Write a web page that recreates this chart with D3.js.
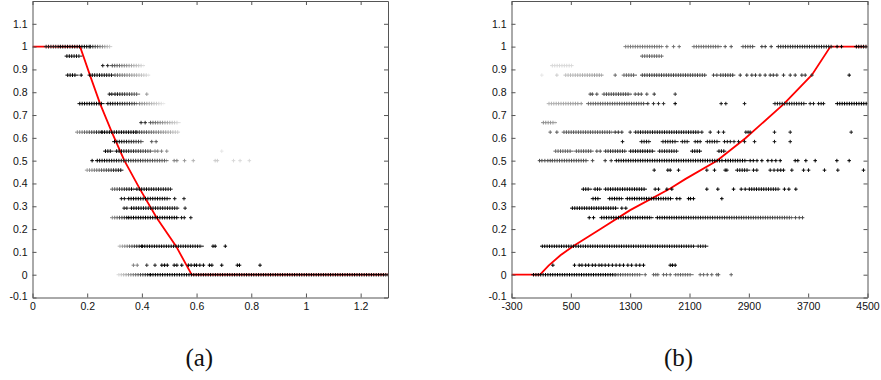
<!DOCTYPE html>
<html>
<head>
<meta charset="utf-8">
<script src="https://cdn.jsdelivr.net/npm/d3@7"></script>
<style>
  body { margin: 0; background: #fff; }
  svg { display: block; }
</style>
</head>
<body>
<script>
const W = 881, H = 380;

// tick labels
const yTicks = [-0.1, 0, 0.1, 0.2, 0.3, 0.4, 0.5, 0.6, 0.7, 0.8, 0.9, 1, 1.1];
const aXTicks = [0, 0.2, 0.4, 0.6, 0.8, 1, 1.2];
const bXTicks = [-300, 500, 1300, 2100, 2900, 3700, 4500];

// point runs: [level in 24ths, x start, x end, grey start, grey end]
// a single point has start == end
const aRuns = [
  [24, 0.048, 0.10, 0.15, 0.1], [24, 0.10, 0.21, 0, 0], [24, 0.21, 0.285, 0.1, 0.8],
  [23, 0.124, 0.176, 0, 0.1],
  [22, 0.257, 0.257, 0.1, 0.1], [22, 0.275, 0.275, 0.15, 0.15], [22, 0.29, 0.405, 0.3, 0.85],
  [21, 0.127, 0.162, 0, 0], [21, 0.178, 0.178, 0, 0], [21, 0.208, 0.293, 0, 0.1], [21, 0.30, 0.424, 0.35, 0.85],
  [19, 0.281, 0.281, 0.1, 0.1], [19, 0.29, 0.29, 0.1, 0.1], [19, 0.30, 0.387, 0.05, 0.4], [19, 0.418, 0.418, 0.6, 0.6],
  [18, 0.171, 0.257, 0, 0], [18, 0.274, 0.381, 0, 0.3], [18, 0.39, 0.479, 0.5, 0.9],
  [16, 0.397, 0.397, 0.15, 0.15], [16, 0.412, 0.412, 0.15, 0.15], [16, 0.43, 0.535, 0.35, 0.85],
  [15, 0.162, 0.253, 0.55, 0.1], [15, 0.253, 0.38, 0, 0], [15, 0.38, 0.533, 0.2, 0.8],
  [14, 0.298, 0.40, 0, 0.3], [14, 0.436, 0.436, 0.35, 0.35], [14, 0.452, 0.452, 0.35, 0.35],
  [13, 0.265, 0.29, 0, 0.05], [13, 0.306, 0.436, 0, 0.35], [13, 0.448, 0.448, 0.5, 0.5], [13, 0.458, 0.458, 0.5, 0.5],
  [13, 0.472, 0.472, 0.5, 0.5], [13, 0.491, 0.491, 0.55, 0.55], [13, 0.692, 0.692, 0.9, 0.9],
  [12, 0.218, 0.218, 0, 0], [12, 0.235, 0.491, 0, 0.4], [12, 0.518, 0.518, 0.5, 0.5], [12, 0.528, 0.528, 0.5, 0.5],
  [12, 0.556, 0.556, 0.6, 0.6], [12, 0.588, 0.588, 0.7, 0.7], [12, 0.668, 0.668, 0.8, 0.8], [12, 0.676, 0.676, 0.8, 0.8],
  [12, 0.735, 0.735, 0.85, 0.85], [12, 0.759, 0.759, 0.85, 0.85], [12, 0.793, 0.793, 0.85, 0.85],
  [11, 0.198, 0.326, 0.6, 0.05],
  [9, 0.29, 0.37, 0.4, 0], [9, 0.38, 0.506, 0, 0.1],
  [8, 0.325, 0.325, 0.1, 0.1], [8, 0.336, 0.336, 0.1, 0.1], [8, 0.35, 0.50, 0, 0.05], [8, 0.52, 0.52, 0.1, 0.1], [8, 0.554, 0.554, 0.1, 0.1],
  [7, 0.335, 0.335, 0.1, 0.1], [7, 0.345, 0.345, 0.1, 0.1], [7, 0.36, 0.53, 0, 0.1], [7, 0.558, 0.558, 0.1, 0.1],
  [6, 0.29, 0.35, 0.55, 0.05], [6, 0.35, 0.53, 0, 0], [6, 0.545, 0.545, 0.1, 0.1], [6, 0.555, 0.555, 0.1, 0.1], [6, 0.579, 0.579, 0.1, 0.1],
  [3, 0.318, 0.40, 0.7, 0], [3, 0.40, 0.62, 0, 0.05], [3, 0.66, 0.66, 0, 0], [3, 0.668, 0.668, 0, 0], [3, 0.705, 0.705, 0, 0],
  [1, 0.369, 0.369, 0.5, 0.5], [1, 0.383, 0.383, 0.5, 0.5], [1, 0.418, 0.418, 0.2, 0.2], [1, 0.448, 0.448, 0.1, 0.1],
  [1, 0.473, 0.473, 0, 0], [1, 0.483, 0.483, 0, 0], [1, 0.493, 0.493, 0, 0], [1, 0.518, 0.518, 0, 0], [1, 0.528, 0.528, 0, 0],
  [1, 0.546, 0.546, 0, 0], [1, 0.57, 0.57, 0, 0], [1, 0.58, 0.58, 0, 0], [1, 0.592, 0.592, 0, 0], [1, 0.60, 0.60, 0, 0],
  [1, 0.612, 0.612, 0, 0], [1, 0.625, 0.625, 0, 0], [1, 0.647, 0.647, 0, 0], [1, 0.656, 0.656, 0, 0], [1, 0.692, 0.692, 0, 0],
  [1, 0.749, 0.749, 0, 0], [1, 0.757, 0.757, 0, 0], [1, 0.832, 0.832, 0, 0],
  [0, 0.314, 0.43, 0.85, 0.05], [0, 0.43, 1.3, 0, 0]
];

const bRuns = [
  [24, 1233, 1727, 0.5, 0.45], [24, 1795, 1795, 0.45, 0.45], [24, 1885, 1885, 0.45, 0.45], [24, 1961, 1961, 0.45, 0.45],
  [24, 2154, 2514, 0.45, 0.4], [24, 2581, 2581, 0.35, 0.35], [24, 2662, 2662, 0.35, 0.35], [24, 2815, 2963, 0.35, 0.3],
  [24, 3076, 3076, 0.25, 0.25], [24, 3121, 3121, 0.25, 0.25], [24, 3201, 3201, 0.25, 0.25], [24, 3291, 4020, 0.2, 0.1],
  [24, 4090, 4090, 0, 0], [24, 4150, 4150, 0, 0], [24, 4343, 4491, 0, 0],
  [23, 1457, 1727, 0.4, 0.4],
  [22, 244, 514, 0.85, 0.85],
  [21, 109, 109, 0.9, 0.9], [21, 312, 312, 0.8, 0.8], [21, 424, 918, 0.75, 0.6], [21, 1098, 1098, 0.4, 0.4],
  [21, 1210, 1368, 0.4, 0.35], [21, 1457, 2312, 0.25, 0.25], [21, 2424, 2424, 0.25, 0.25], [21, 2469, 2469, 0.25, 0.25],
  [21, 2514, 2694, 0.25, 0.2], [21, 2784, 2784, 0.2, 0.2], [21, 2873, 2873, 0.2, 0.2], [21, 2941, 2941, 0.2, 0.2],
  [21, 2990, 2990, 0.2, 0.2], [21, 3050, 3050, 0.2, 0.2], [21, 3120, 3120, 0.2, 0.2], [21, 3188, 3188, 0.2, 0.2],
  [21, 3230, 3230, 0.2, 0.2], [21, 3278, 3278, 0.2, 0.2], [21, 3368, 3368, 0.2, 0.2], [21, 3458, 3458, 0.2, 0.2],
  [21, 3525, 3525, 0.2, 0.2], [21, 3615, 3615, 0.2, 0.2], [21, 3660, 3660, 0.2, 0.2], [21, 3750, 3750, 0.2, 0.2],
  [21, 4253, 4253, 0, 0],
  [19, 761, 761, 0.3, 0.3], [19, 790, 790, 0.3, 0.3], [19, 851, 851, 0.3, 0.3], [19, 941, 1300, 0.3, 0.25],
  [19, 1368, 1368, 0.3, 0.3], [19, 1410, 1410, 0.3, 0.3], [19, 1450, 1450, 0.3, 0.3], [19, 1525, 1525, 0.3, 0.3],
  [19, 1624, 1624, 0.2, 0.2], [19, 1907, 1907, 0.2, 0.2],
  [18, 199, 604, 0.7, 0.6], [18, 640, 640, 0.6, 0.6], [18, 730, 1502, 0.4, 0.3], [18, 1538, 1538, 0.2, 0.2],
  [18, 1615, 1615, 0.2, 0.2], [18, 1682, 1682, 0.2, 0.2], [18, 1750, 1750, 0.2, 0.2], [18, 1907, 1907, 0, 0],
  [18, 2527, 2527, 0.1, 0.1], [18, 2590, 2590, 0.1, 0.1], [18, 2842, 2842, 0.1, 0.1], [18, 3246, 3660, 0.1, 0.1],
  [18, 3727, 3727, 0.1, 0.1], [18, 3772, 3772, 0.1, 0.1], [18, 3840, 3840, 0.1, 0.1], [18, 3875, 3875, 0.1, 0.1],
  [18, 3907, 3907, 0.1, 0.1], [18, 4087, 4505, 0, 0],
  [16, 123, 289, 0.55, 0.6],
  [15, 222, 222, 0.4, 0.4], [15, 312, 312, 0.35, 0.35], [15, 401, 1053, 0.35, 0.3], [15, 1098, 1098, 0.2, 0.2],
  [15, 1140, 1140, 0.2, 0.2], [15, 1188, 1188, 0.2, 0.2], [15, 1300, 1300, 0.2, 0.2], [15, 1368, 2222, 0.1, 0.05],
  [15, 2267, 2267, 0.1, 0.1], [15, 2379, 2379, 0.1, 0.1], [15, 2491, 2491, 0.1, 0.1], [15, 2559, 2559, 0.1, 0.1],
  [15, 2860, 2860, 0.1, 0.1], [15, 2890, 2890, 0.1, 0.1], [15, 2918, 2918, 0.1, 0.1], [15, 3246, 3246, 0.1, 0.1],
  [15, 3458, 3458, 0.1, 0.1], [15, 4280, 4280, 0.1, 0.1],
  [14, 1197, 1197, 0.1, 0.1], [14, 1449, 1557, 0.1, 0.1], [14, 1736, 1929, 0.1, 0.1], [14, 1997, 2078, 0.1, 0.1],
  [14, 2177, 2177, 0.1, 0.1], [14, 2210, 2210, 0.1, 0.1], [14, 2244, 2244, 0.1, 0.1], [14, 2334, 2491, 0.1, 0.1],
  [14, 2572, 2572, 0.1, 0.1], [14, 2610, 2610, 0.1, 0.1], [14, 2650, 2650, 0.1, 0.1], [14, 2700, 2700, 0.1, 0.1],
  [14, 2761, 2761, 0.1, 0.1], [14, 2842, 2842, 0.1, 0.1], [14, 2977, 2977, 0.1, 0.1], [14, 3246, 3246, 0.1, 0.1],
  [14, 3458, 3458, 0.1, 0.1],
  [13, 289, 514, 0.4, 0.35], [13, 568, 784, 0.35, 0.3], [13, 851, 851, 0.3, 0.3], [13, 896, 896, 0.3, 0.3],
  [13, 963, 1233, 0.2, 0.15], [13, 1300, 1615, 0.05, 0.05], [13, 1691, 1929, 0.1, 0.1], [13, 2132, 2244, 0, 0],
  [13, 2491, 2572, 0, 0],
  [12, 78, 78, 0.3, 0.3], [12, 110, 110, 0.3, 0.3], [12, 150, 150, 0.3, 0.3], [12, 190, 190, 0.3, 0.3],
  [12, 222, 222, 0.3, 0.3], [12, 244, 716, 0.3, 0.3], [12, 793, 793, 0.3, 0.3], [12, 963, 963, 0.2, 0.2],
  [12, 1044, 1044, 0.2, 0.2], [12, 1107, 2559, 0.05, 0], [12, 2581, 2873, 0, 0], [12, 2918, 2918, 0, 0],
  [12, 2960, 2960, 0, 0], [12, 3010, 3010, 0, 0], [12, 3076, 3076, 0, 0], [12, 3157, 3157, 0, 0], [12, 3210, 3210, 0, 0],
  [12, 3264, 3264, 0, 0], [12, 3323, 3323, 0, 0], [12, 3525, 3525, 0, 0], [12, 3561, 3561, 0, 0], [12, 3669, 3669, 0, 0],
  [12, 3795, 3795, 0, 0], [12, 4087, 4087, 0, 0], [12, 4253, 4253, 0, 0],
  [11, 1624, 1624, 0.05, 0.05], [11, 1808, 1808, 0.05, 0.05], [11, 1840, 1840, 0.05, 0.05], [11, 1952, 1952, 0.05, 0.05],
  [11, 2334, 2334, 0.05, 0.05], [11, 2437, 2437, 0.05, 0.05], [11, 2581, 2581, 0.05, 0.05], [11, 2604, 2604, 0.05, 0.05],
  [11, 2739, 2896, 0.05, 0.05], [11, 2963, 2963, 0.05, 0.05], [11, 3008, 3008, 0.05, 0.05], [11, 3188, 3188, 0.05, 0.05],
  [11, 3240, 3240, 0.05, 0.05], [11, 3290, 3290, 0.05, 0.05], [11, 3330, 3330, 0.05, 0.05], [11, 3368, 3368, 0.05, 0.05],
  [11, 3480, 3480, 0.05, 0.05], [11, 3638, 3638, 0.05, 0.05], [11, 3705, 3705, 0.05, 0.05], [11, 3920, 3920, 0.05, 0.05],
  [11, 4100, 4100, 0.05, 0.05], [11, 4446, 4446, 0.05, 0.05],
  [9, 662, 761, 0, 0], [9, 820, 896, 0, 0], [9, 963, 1502, 0, 0], [9, 1637, 1637, 0, 0], [9, 1682, 1682, 0, 0],
  [9, 1795, 1795, 0, 0], [9, 1862, 1862, 0, 0], [9, 2334, 2334, 0, 0], [9, 2482, 2482, 0, 0], [9, 2694, 2694, 0, 0],
  [9, 2797, 2797, 0, 0], [9, 2851, 2851, 0, 0], [9, 2900, 3300, 0, 0.05], [9, 3380, 3380, 0, 0], [9, 3440, 3440, 0, 0],
  [9, 3534, 3534, 0, 0],
  [8, 793, 882, 0, 0], [8, 1017, 1188, 0, 0], [8, 1255, 1862, 0, 0], [8, 1929, 1929, 0, 0], [8, 1970, 1970, 0, 0],
  [8, 2087, 2087, 0, 0], [8, 2114, 2114, 0, 0], [8, 2154, 2154, 0, 0], [8, 2536, 2536, 0, 0],
  [7, 514, 1121, 0, 0], [7, 1188, 1188, 0, 0], [7, 1242, 1242, 0, 0],
  [6, 748, 748, 0, 0], [6, 806, 806, 0, 0], [6, 909, 1592, 0, 0], [6, 1660, 3480, 0, 0.3],
  [6, 3530, 3530, 0.3, 0.3], [6, 3580, 3580, 0.3, 0.3], [6, 3624, 3624, 0.3, 0.3],
  [3, 109, 2160, 0, 0.05], [3, 2210, 2330, 0.1, 0.1],
  [1, 258, 258, 0, 0], [1, 550, 550, 0, 0], [1, 613, 613, 0, 0], [1, 650, 650, 0, 0], [1, 700, 700, 0, 0],
  [1, 740, 740, 0, 0], [1, 790, 790, 0, 0], [1, 830, 830, 0, 0], [1, 880, 880, 0, 0], [1, 918, 918, 0, 0],
  [1, 963, 963, 0, 0], [1, 1010, 1010, 0, 0], [1, 1060, 1060, 0, 0], [1, 1110, 1110, 0, 0], [1, 1160, 1160, 0, 0],
  [1, 1210, 1210, 0, 0], [1, 1269, 1269, 0, 0], [1, 1320, 1320, 0, 0], [1, 1380, 1380, 0, 0], [1, 1430, 1430, 0, 0],
  [1, 1480, 1480, 0, 0], [1, 1840, 1840, 0, 0], [1, 1870, 1870, 0, 0], [1, 1907, 1907, 0, 0],
  [0, -10, 1098, 0, 0], [0, 1098, 1449, 0.3, 0.4], [0, 1503, 1503, 0.4, 0.4], [0, 1615, 1615, 0.4, 0.4],
  [0, 1645, 1645, 0.4, 0.4], [0, 1673, 1673, 0.4, 0.4], [0, 1750, 1750, 0.4, 0.4], [0, 1790, 1790, 0.4, 0.4],
  [0, 1840, 1840, 0.4, 0.4], [0, 1907, 2132, 0.4, 0.4], [0, 2244, 2244, 0.4, 0.4], [0, 2290, 2290, 0.4, 0.4],
  [0, 2340, 2340, 0.4, 0.4], [0, 2400, 2400, 0.4, 0.4], [0, 2469, 2469, 0.4, 0.4], [0, 2491, 2491, 0.4, 0.4],
  [0, 2662, 2662, 0.4, 0.4]
];

// red curves
const aCurveX = [0, 0.174, 0.21, 0.247, 0.29, 0.336, 0.393, 0.454, 0.525, 0.582, 1.3];
const aCurveY = [1, 1, 0.875, 0.75, 0.625, 0.5, 0.375, 0.25, 0.125, 0, 0];
const bCurveX = [-300, 85, 200, 360, 530, 900, 1300, 1840, 2042, 2470, 2850, 3380, 3750, 4000, 4500];
const bCurveY = [0, 0, 0.04, 0.085, 0.125, 0.2, 0.283, 0.378, 0.419, 0.5, 0.597, 0.751, 0.876, 1, 1];

const svg = d3.select("body").append("svg")
  .attr("width", W)
  .attr("height", H)
  .style("font-family", "'Liberation Sans', Arial, sans-serif");

const defs = svg.append("defs");
const grey = d3.interpolateRgb("#000", "#fff");
let gradCount = 0;

function drawPanel(id, runs, curveX, curveY, xDomain, left, right, xTicks, caption) {
  const top = 1, bottom = 297.5;
  const x = d3.scaleLinear().domain(xDomain).range([left, right]);
  const y = d3.scaleLinear().domain([-0.1, 1.2]).range([bottom, top]);

  defs.append("clipPath").attr("id", "clip" + id)
    .append("rect")
    .attr("x", left).attr("y", top)
    .attr("width", right - left).attr("height", bottom - top);

  const g = svg.append("g");
  const plot = g.append("g").attr("clip-path", `url(#clip${id})`);

  // red curve goes under the points
  const line = d3.line().x((d, i) => x(curveX[i])).y((d, i) => y(curveY[i]));
  plot.append("path")
    .datum(curveX)
    .attr("d", line)
    .attr("fill", "none")
    .attr("stroke", "#ff0000")
    .attr("stroke-width", 1.8);

  runs.forEach((r) => {
    const yy = y(r[0] / 24);
    const x0 = x(r[1]), x1 = x(r[2]);
    if (r[1] === r[2]) {
      plot.append("path")
        .attr("d", `M${x0 - 1.8},${yy}h3.6M${x0},${yy - 1.8}v3.6`)
        .attr("stroke", grey(r[3]))
        .attr("stroke-width", 1)
        .attr("fill", "none");
      return;
    }
    let stroke = grey(r[3]);
    if (r[3] !== r[4]) {
      const gid = "gr" + gradCount++;
      const lg = defs.append("linearGradient")
        .attr("id", gid)
        .attr("gradientUnits", "userSpaceOnUse")
        .attr("x1", x0).attr("y1", 0)
        .attr("x2", x1).attr("y2", 0);
      lg.append("stop").attr("offset", 0).attr("stop-color", grey(r[3]));
      lg.append("stop").attr("offset", 1).attr("stop-color", grey(r[4]));
      stroke = `url(#${gid})`;
    }
    // horizontal arms of the markers
    plot.append("line")
      .attr("x1", x0 - 1.8).attr("x2", x1 + 1.8)
      .attr("y1", yy).attr("y2", yy)
      .attr("stroke", stroke)
      .attr("stroke-width", 1);
    // vertical arms
    plot.append("line")
      .attr("x1", x0).attr("x2", x1)
      .attr("y1", yy).attr("y2", yy)
      .attr("stroke", stroke)
      .attr("stroke-width", 3.6)
      .attr("stroke-dasharray", "1,1.4");
  });

  // box with inward ticks
  const axisColor = "#555";
  const fmt = (d) => String(d);
  const gx = g.append("g").attr("transform", `translate(0,${bottom})`)
    .call(d3.axisBottom(x).tickValues(xTicks).tickSize(-4).tickSizeOuter(0).tickPadding(5).tickFormat(fmt));
  const gy = g.append("g").attr("transform", `translate(${left},0)`)
    .call(d3.axisLeft(y).tickValues(yTicks).tickSize(-4).tickSizeOuter(0).tickPadding(5).tickFormat(fmt));
  const gt = g.append("g").attr("transform", `translate(0,${top})`)
    .call(d3.axisTop(x).tickValues(xTicks).tickSize(-4).tickSizeOuter(0).tickFormat(""));
  const gr = g.append("g").attr("transform", `translate(${right},0)`)
    .call(d3.axisRight(y).tickValues(yTicks).tickSize(-4).tickSizeOuter(0).tickFormat(""));

  [gx, gy, gt, gr].forEach((a) => {
    a.selectAll("path, line").attr("stroke", axisColor);
    a.selectAll("text")
      .attr("fill", "#111")
      .style("font-size", "10.5px")
      .style("font-family", "'Liberation Sans', Arial, sans-serif");
  });
  // lowest y label sits a touch higher so it clears the first x label
  gy.selectAll(".tick text").filter((d) => d === yTicks[0]).attr("dy", "0.22em");

  svg.append("text")
    .attr("x", (left + right) / 2 - 11)
    .attr("y", 366)
    .attr("text-anchor", "middle")
    .style("font-family", "'Liberation Serif', 'DejaVu Serif', serif")
    .style("font-size", "25px")
    .attr("fill", "#111")
    .text(caption);
}

drawPanel("a", aRuns, aCurveX, aCurveY, [0, 1.3], 32.5, 388, aXTicks, "(a)");
drawPanel("b", bRuns, bCurveX, bCurveY, [-300, 4500], 511.5, 867.5, bXTicks, "(b)");
</script>
</body>
</html>
